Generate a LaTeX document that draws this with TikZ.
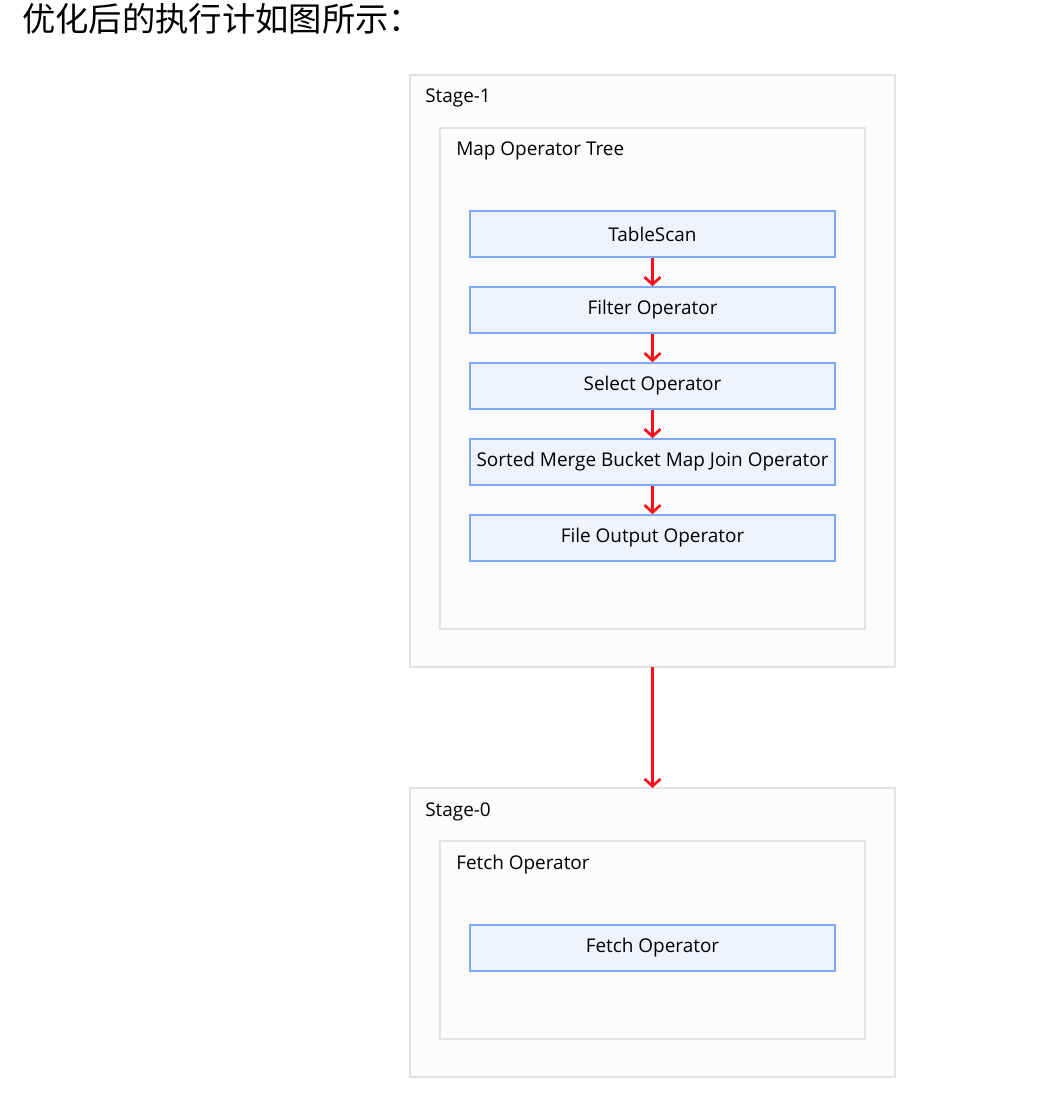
\documentclass[tikz,border=0pt]{standalone}
\usepackage{fontspec}
\setmainfont{Open Sans}
\newfontfamily\cjk{Noto Sans CJK SC}
\usetikzlibrary{arrows.meta}

\definecolor{stagefill}{HTML}{FCFCFC}
\definecolor{stageline}{HTML}{E2E2E2}
\definecolor{opfill}{HTML}{EEF3FE}
\definecolor{opline}{HTML}{7FA8F6}
\definecolor{flowred}{HTML}{FA0F1A}

\tikzset{
  stagebox/.style={draw=stageline, fill=stagefill, line width=1.5pt},
  opbox/.style={draw=opline, fill=opfill, line width=1.2pt, minimum width=273.75pt,
    minimum height=34.5pt, inner sep=0pt, font=\fontsize{14.2}{16}\selectfont},
  boxlabel/.style={anchor=west, inner sep=0pt, font=\fontsize{14.2}{16}\selectfont},
  flow/.style={draw=flowred, line width=2pt, -{Straight Barb[length=5.5pt,width=12pt,line width=2pt]}}
}

\begin{document}
\begin{tikzpicture}[x=0.75pt,y=-0.75pt]
	\useasboundingbox[fill=white] (0,0) rectangle (1052,1094);
	
	\node[anchor=west, inner sep=0pt, font=\cjk\fontsize{25}{28}\selectfont] (title) at (22,19) {优化后的执行计如图所示：};
	
	% Stage-1
	\draw[stagebox] (410,75) rectangle (895,667);
	\node[boxlabel] (stage1) at (425,98) {Stage-1};
	\draw[stagebox] (440,128) rectangle (865,629);
	\node[boxlabel] (maptree) at (456,151) {Map Operator Tree};
	
	\node[opbox] (scan) at (652.5,234) {TableScan};
	\node[opbox] (filter) at (652.5,310) {Filter Operator};
	\node[opbox] (select) at (652.5,386) {Select Operator};
	\node[opbox] (smbjoin) at (652.5,462) {Sorted Merge Bucket Map Join Operator};
	\node[opbox] (fileout) at (652.5,538) {File Output Operator};
	
	\draw[flow] (scan) -- (filter);
	\draw[flow] (filter) -- (select);
	\draw[flow] (select) -- (smbjoin);
	\draw[flow] (smbjoin) -- (fileout);
	
	% Stage-0
	\draw[stagebox] (410,788) rectangle (895,1077);
	\node[boxlabel] (stage0) at (425,812) {Stage-0};
	\draw[stagebox] (440,841) rectangle (865,1039);
	\node[boxlabel] (fetchtree) at (456,865) {Fetch Operator};
	
	\node[opbox] (fetch) at (652.5,948) {Fetch Operator};
	
	\coordinate (s1bottom) at (652.5,667);
	\coordinate (s0top) at (652.5,788);
	\draw[flow] (s1bottom) -- (s0top);
\end{tikzpicture}
\end{document}
